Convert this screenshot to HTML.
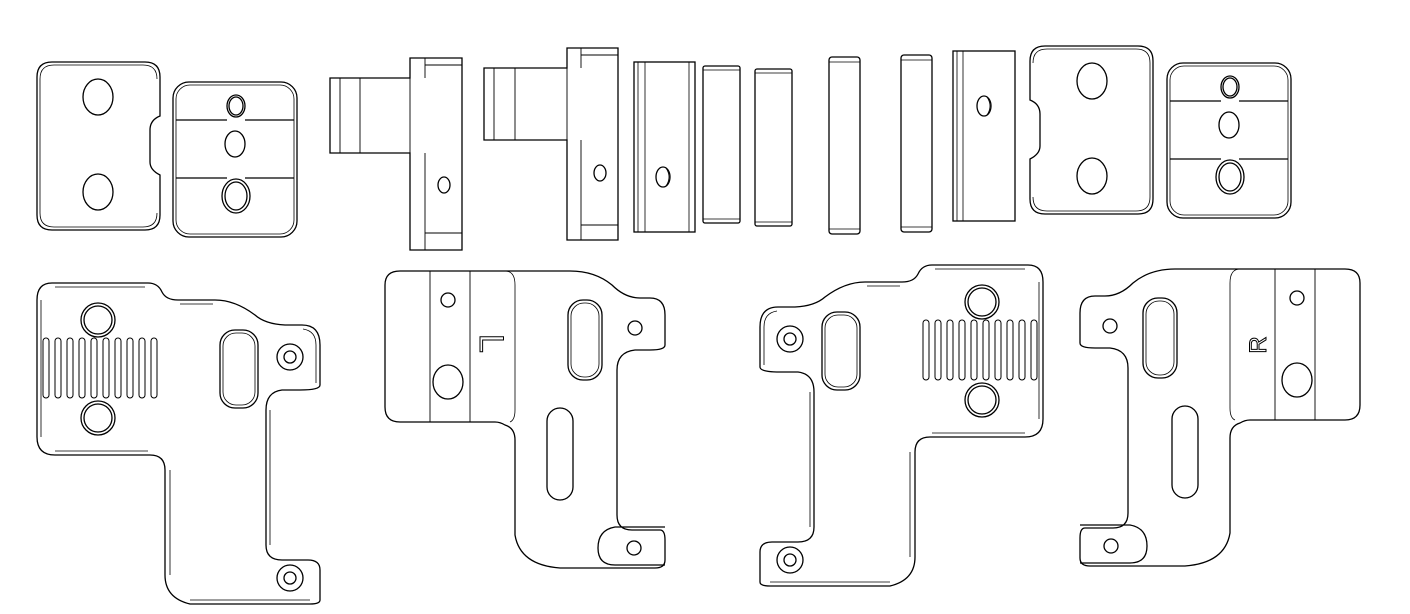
<!DOCTYPE html>
<html><head><meta charset="utf-8"><style>
html,body{margin:0;padding:0;background:#fff;width:1410px;height:614px;overflow:hidden}
svg{display:block}
</style></head><body>
<svg width="1410" height="614" viewBox="0 0 1410 614" xmlns="http://www.w3.org/2000/svg" fill="none" stroke="#000" stroke-width="1.3">
<defs>
<g id="padA">
  <path d="M52,62 H145 Q160,62 160,77 V116 Q150,120 150,130 V162 Q150,170 160,175 V215 Q160,230 145,230 H52 Q37,230 37,215 V77 Q37,62 52,62 Z"/>
  <path d="M54,65 H143 Q157,65 157,79 M40,79 Q40,65 54,65 M40,79 V213 Q40,227 54,227 H143 Q157,227 157,213" stroke-width="0.8"/>
  <ellipse cx="98" cy="97" rx="15" ry="18"/>
  <ellipse cx="98" cy="192" rx="15" ry="18"/>
</g>
<g id="padB">
  <rect x="173" y="82" width="124" height="155" rx="16"/>
  <rect x="176" y="85" width="118" height="149" rx="14" stroke-width="0.8"/>
  <path d="M176,120 H227 M245,120 H294 M176,178 H227 M245,178 H294"/>
  <ellipse cx="236" cy="106" rx="9" ry="11"/><ellipse cx="236" cy="106" rx="7" ry="9"/>
  <ellipse cx="235" cy="144" rx="10" ry="13"/>
  <ellipse cx="236" cy="196" rx="14" ry="17"/><ellipse cx="236" cy="196" rx="11" ry="14"/>
</g>
<g id="plate1">
  <path d="M52,283 H148 Q158,283 162,292 Q166,300 178,300 H215 Q235,300 255,315 Q265,324 285,325 H302 Q320,325 320,345 V385 Q320,390 300,390 H282 Q266,392 266,410 V545 Q266,560 282,560 H308 Q320,560 320,570 V600 Q320,604 310,604 H190 Q165,598 165,575 V470 Q165,455 150,455 H55 Q37,455 37,437 V300 Q37,283 52,283 Z"/>
  <path d="M55,287 H145 M180,304 H213 M303,329 Q316,331 316,345 V383 M270,410 V545 M170,470 V575 M55,451 H148 M41,300 V437 M190,600 H310" stroke-width="0.8"/>
  <circle cx="98" cy="320" r="17"/><circle cx="98" cy="320" r="14"/>
  <circle cx="98" cy="418" r="17"/><circle cx="98" cy="418" r="14"/>
  <g stroke-width="1">
    <rect x="43" y="338" width="6" height="60" rx="3"/><rect x="55" y="338" width="6" height="60" rx="3"/>
    <rect x="67" y="338" width="6" height="60" rx="3"/><rect x="79" y="338" width="6" height="60" rx="3"/>
    <rect x="91" y="338" width="6" height="60" rx="3"/><rect x="103" y="338" width="6" height="60" rx="3"/>
    <rect x="115" y="338" width="6" height="60" rx="3"/><rect x="127" y="338" width="6" height="60" rx="3"/>
    <rect x="139" y="338" width="6" height="60" rx="3"/><rect x="151" y="338" width="6" height="60" rx="3"/>
  </g>
  <rect x="220" y="330" width="38" height="78" rx="15"/>
  <rect x="223" y="333" width="32" height="72" rx="13" stroke-width="0.8"/>
  <circle cx="290" cy="357" r="13"/><circle cx="290" cy="357" r="6"/>
  <circle cx="290" cy="578" r="13"/><circle cx="290" cy="578" r="6"/>
</g>
<g id="plate2">
  <path d="M400,271 H570 Q595,271 612,285 Q625,298 640,298 H650 Q665,298 665,315 V345 Q665,350 650,350 H635 Q617,352 617,370 V515 Q617,530 632,530 H660 Q665,530 665,540 V560 Q665,568 655,568 H560 Q520,565 515,535 V440 Q515,428 505,425 Q500,422 495,422 H400 Q385,422 385,407 V285 Q385,271 400,271 Z"/>
  <path d="M430,271 V422 M470,271 V422 M428,271 H472" stroke-width="0.9"/>
  <path d="M510,422 Q515,420 515,410 V285 Q515,271 505,271" stroke-width="0.8"/>
  <circle cx="448" cy="300" r="7"/>
  <ellipse cx="448" cy="382" rx="15" ry="17"/>
  <rect x="568" y="300" width="34" height="80" rx="15"/>
  <rect x="571" y="303" width="28" height="74" rx="13" stroke-width="0.8"/>
  <rect x="547" y="408" width="26" height="92" rx="13"/>
  <circle cx="635" cy="328" r="7"/>
  <path d="M665,527 H615 Q598,530 598,548 Q598,565 615,565 H665" />
  <circle cx="634" cy="548" r="7"/>
</g>
</defs>

<use href="#padA"/>
<use href="#padB"/>
<path d="M330,78 H410 V58 H462 V250 H410 V153 H330 Z"/>
<path d="M340,78 V153 M360,78 V153 M425,58 V78 M410,78 V153 M425,153 V250 M425,233 H462 M425,65 H462" stroke-width="0.9"/>
<ellipse cx="444" cy="185" rx="6" ry="8"/>
<path d="M484,68 H567 V48 H618 V240 H567 V140 H484 Z"/>
<path d="M494,68 V140 M515,68 V140 M581,48 V68 M567,68 V140 M581,140 V240 M581,225 H618 M581,55 H618" stroke-width="0.9"/>
<ellipse cx="600" cy="173" rx="6" ry="8"/>
<rect x="634" y="62" width="61" height="170"/>
<path d="M638,62 V232 M645,62 V232 M689,62 V232" stroke-width="0.8"/>
<ellipse cx="663" cy="177" rx="7" ry="10"/><path d="M666,168 Q672,177 666,186" stroke-width="0.8"/>
<rect x="703" y="66" width="37" height="157" rx="2"/><path d="M703,70 H740 M703,219 H740" stroke-width="0.7"/>
<rect x="755" y="69" width="37" height="157" rx="2"/><path d="M755,73 H792 M755,222 H792" stroke-width="0.7"/>
<rect x="829" y="57" width="31" height="177" rx="3"/><path d="M829,62 H860 M829,229 H860" stroke-width="0.7"/>
<rect x="901" y="55" width="31" height="177" rx="3"/><path d="M901,60 H932 M901,227 H932" stroke-width="0.7"/>
<rect x="953" y="51" width="62" height="170"/>
<path d="M957,51 V221 M963,51 V221" stroke-width="0.8"/>
<ellipse cx="984" cy="106" rx="7" ry="10"/><path d="M987,97 Q993,106 987,115" stroke-width="0.8"/>
<use href="#padA" transform="translate(1190,-16) scale(-1,1)"/>
<use href="#padB" transform="translate(994,-19)"/>

<use href="#plate1"/>
<use href="#plate2"/>
<text x="0" y="0" transform="translate(480,334) rotate(90)" font-family="Liberation Sans, sans-serif" font-size="34" fill="none" stroke="#000" stroke-width="1" text-anchor="start">L</text>
<use href="#plate1" transform="translate(1080,-18) scale(-1,1)"/>
<use href="#plate2" transform="translate(1745,-2) scale(-1,1)"/>
<text x="0" y="0" transform="translate(1266,345) rotate(-90)" font-family="Liberation Sans, sans-serif" font-size="24" fill="none" stroke="#000" stroke-width="1" text-anchor="middle">R</text>
</svg>
</body></html>
